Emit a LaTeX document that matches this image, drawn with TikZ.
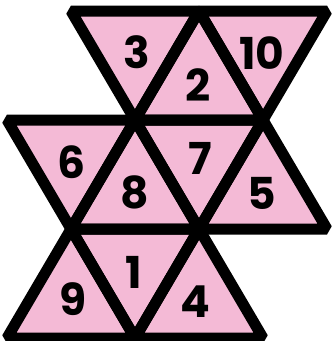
\documentclass[tikz,border=0pt]{standalone}
\usepackage{fontspec}
\usepackage{xcolor}
\newfontfamily\netfont{Poppins}
\definecolor{netpink}{RGB}{244,186,214}

\begin{document}
\begin{tikzpicture}[
    x=1pt, y=-1pt,
    face/.style={fill=netpink},
    edge/.style={draw=black,line width=11pt,line join=bevel},
    num/.style={font=\netfont\bfseries\fontsize{44}{44}\selectfont,inner sep=0pt},
  ]
  \useasboundingbox (0,0) rectangle (332,341);

  % --- lattice points, four rows ---
  \coordinate (a0) at (71,11);  \coordinate (a1) at (199,11);  \coordinate (a2) at (327,11);
  \coordinate (b0) at (7,120);  \coordinate (b1) at (135,120); \coordinate (b2) at (263,120);
  \coordinate (c0) at (71,229); \coordinate (c1) at (199,229); \coordinate (c2) at (327,229);
  \coordinate (d0) at (7,338);  \coordinate (d1) at (135,338); \coordinate (d2) at (263,338);

  % --- faces of the net ---
  \foreach \p/\q/\r in {a0/a1/b1, a1/b1/b2, a1/a2/b2,
                        b0/b1/c0, b1/c0/c1, b1/b2/c1, b2/c1/c2,
                        c0/d0/d1, c0/c1/d1, c1/d1/d2}
    \fill[face] (\p) -- (\q) -- (\r) -- cycle;
  \foreach \p/\q/\r in {a0/a1/b1, a1/b1/b2, a1/a2/b2,
                        b0/b1/c0, b1/c0/c1, b1/b2/c1, b2/c1/c2,
                        c0/d0/d1, c0/c1/d1, c1/d1/d2}
    \draw[edge] (\p) -- (\q) -- (\r) -- cycle;

  % --- face numbers ---
  \node[num] (n3)  at (137,52)  {3};
  \node[num] (n2)  at (198,85)  {2};
  \node[num] (n10) at (262,53)  {10};
  \node[num] (n6)  at (72,162)  {6};
  \node[num] (n8)  at (135,192) {8};
  \node[num] (n7)  at (200,158) {7};
  \node[num] (n5)  at (262,193) {5};
  \node[num] (n9)  at (73,299)  {9};
  \node[num] (n1)  at (134,272) {1};
  \node[num] (n4)  at (195,302) {4};

\end{tikzpicture}
\end{document}
